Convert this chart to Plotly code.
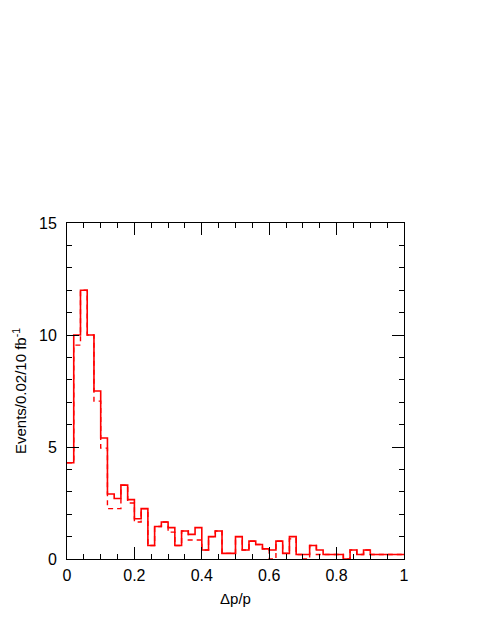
import plotly.graph_objects as go

# bin edges: 50 bins of width 0.02 on [0, 1]
bin_edges = [round(0.02 * i, 2) for i in range(51)]

# solid histogram (events per bin)
solid_counts = [
    4.3, 10.0, 12.0, 10.0, 7.5, 5.4, 2.9, 2.7, 3.3, 2.65,
    1.8, 2.25, 0.6, 1.45, 1.65, 1.4, 0.6, 1.25, 1.1, 1.4,
    0.4, 1.0, 1.25, 0.25, 0.25, 1.0, 0.4, 0.8, 0.65, 0.45,
    0.4, 0.8, 0.25, 1.0, 0.2, 0.2, 0.6, 0.4, 0.2, 0.2,
    0.2, 0.0, 0.4, 0.2, 0.4, 0.2, 0.2, 0.2, 0.2, 0.2,
]

# dashed histogram
dashed_counts = [
    4.3, 9.55, 12.0, 10.0, 7.05, 4.95, 2.25, 2.25, 3.3, 2.5,
    1.65, 2.25, 0.6, 1.45, 1.65, 1.2, 0.6, 1.25, 0.85, 0.85,
    0.4, 1.0, 1.25, 0.25, 0.25, 1.0, 0.4, 0.8, 0.65, 0.45,
    0.0, 0.8, 0.25, 0.9, 0.2, 0.0, 0.6, 0.2, 0.2, 0.2,
    0.2, 0.0, 0.4, 0.2, 0.4, 0.2, 0.2, 0.2, 0.2, 0.2,
]

x_tick_vals = [0, 0.2, 0.4, 0.6, 0.8, 1]
x_tick_text = ["0", "0.2", "0.4", "0.6", "0.8", "1"]
y_tick_vals = [0, 5, 10, 15]
y_tick_text = ["0", "5", "10", "15"]


def step_xy(counts):
    # repeat last value so the final bin gets its full width with shape 'hv'
    return bin_edges, list(counts) + [counts[-1]]


fig = go.Figure()

xd, yd = step_xy(dashed_counts)
fig.add_trace(go.Scatter(x=xd, y=yd, mode="lines", line_shape="hv",
                         line=dict(color="#ff0000", width=1.4, dash="5px,4px"),
                         showlegend=False))

xs, ys = step_xy(solid_counts)
fig.add_trace(go.Scatter(x=xs, y=ys, mode="lines", line_shape="hv",
                         line=dict(color="#ff0000", width=1.6),
                         showlegend=False))

tick_font = dict(family="Liberation Sans, Arial, sans-serif", size=16, color="black")
title_font = dict(family="Liberation Sans, Arial, sans-serif", size=15, color="black")

fig.update_xaxes(range=[0, 1], tickvals=x_tick_vals, ticktext=x_tick_text,
                 ticks="inside", ticklen=12, tickwidth=1, tickcolor="black",
                 minor=dict(dtick=0.05, tick0=0, ticks="inside", ticklen=5,
                            tickwidth=1, tickcolor="black"),
                 showline=True, linecolor="black", linewidth=1, mirror="allticks",
                 showgrid=False, zeroline=False, tickfont=tick_font,
                 ticklabelstandoff=2,
                 title=dict(text="Δp/p", font=title_font, standoff=10))

fig.update_yaxes(range=[0, 15], tickvals=y_tick_vals, ticktext=y_tick_text,
                 ticks="inside", ticklen=12, tickwidth=1, tickcolor="black",
                 minor=dict(dtick=1, tick0=0, ticks="inside", ticklen=5,
                            tickwidth=1, tickcolor="black"),
                 showline=True, linecolor="black", linewidth=1, mirror="allticks",
                 showgrid=False, zeroline=False, tickfont=tick_font,
                 ticklabelstandoff=6,
                 title=dict(text="Events/0.02/10 fb<sup>-1</sup>", font=title_font, standoff=8))

# page body adds an 8px offset, so margins are shifted to keep the plot box in place
fig.update_layout(width=485, height=627,
                  margin=dict(l=59, r=89, t=215, b=76),
                  plot_bgcolor="white", paper_bgcolor="white",
                  font=tick_font)

fig.write_html("out.html")
